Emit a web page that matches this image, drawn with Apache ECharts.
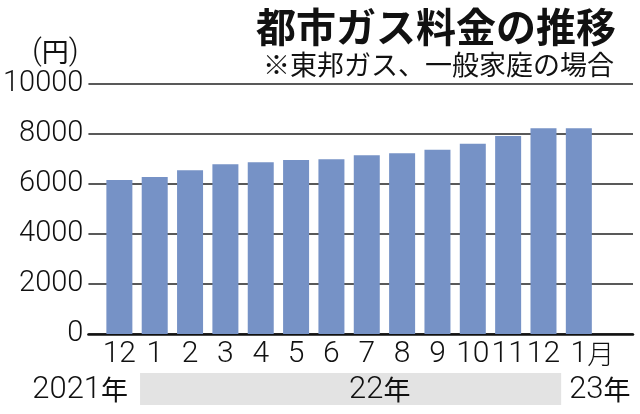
<!DOCTYPE html>
<html>
<head>
<meta charset="utf-8">
<script src="https://cdn.jsdelivr.net/npm/echarts@6/dist/echarts.min.js"></script>
<style>
  html, body { margin: 0; padding: 0; background: #fff; }
  #chart { width: 640px; height: 414px; }
</style>
</head>
<body>
<div id="chart"></div>
<script>
// monthly gas bill, Toho Gas, typical household (yen)
const months = ['12', '1', '2', '3', '4', '5', '6', '7', '8', '9', '10', '11', '12', '1'];
const fees = [6160, 6280, 6550, 6790, 6870, 6960, 6990, 7150, 7230, 7370, 7610, 7920, 8230, 8230];
const yearLabels = ['2021年', '22年', '23年'];

const numFont = "Roboto, 'Liberation Sans', 'Noto Sans CJK JP', sans-serif";
const cjkFont = "'Noto Sans CJK JP', sans-serif";

const chart = echarts.init(document.getElementById('chart'));

chart.setOption({
  animation: false,
  title: [
    {
      text: '都市ガス料金の推移',
      right: 19,
      top: 2,
      textStyle: { fontFamily: cjkFont, fontSize: 40, fontWeight: 'bold', color: '#111' }
    },
    {
      text: '※東邦ガス、一般家庭の場合',
      right: 21,
      top: 46,
      textStyle: { fontFamily: cjkFont, fontSize: 27, fontWeight: 'normal', color: '#111' }
    }
  ],
  grid: [
    { left: 85, right: 7, top: 84, bottom: 80 },
    { left: 101.7, right: 43.5, top: 84, bottom: 80 }
  ],
  xAxis: [
    {
      gridIndex: 0, type: 'value', min: 0, max: 1,
      axisLine: { show: true, onZero: false, lineStyle: { color: '#111', width: 2.5 } },
      axisTick: { show: false }, axisLabel: { show: false }, splitLine: { show: false }
    },
    {
      gridIndex: 1, type: 'category', data: months,
      axisLine: { show: false }, axisTick: { show: false },
      axisLabel: {
        interval: 0, hideOverlap: false, margin: 5,
        fontFamily: numFont, fontWeight: 300, fontSize: 30, color: '#111',
        formatter: (v, i) => i === months.length - 1 ? '{g|月}' + v + '{k|月}' : v,
        rich: {
          g: { fontFamily: cjkFont, fontSize: 27, color: 'transparent' },
          k: { fontFamily: cjkFont, fontSize: 27, color: '#111' }
        }
      }
    }
  ],
  yAxis: [
    {
      gridIndex: 0, type: 'value', min: 0, max: 10000, interval: 2000,
      name: '{p|(}{k|円}{p|)}',
      nameLocation: 'end', nameGap: 17,
      nameTextStyle: {
        verticalAlign: 'bottom', padding: [0, 66, 0, 0],
        rich: {
          p: { fontFamily: numFont, fontWeight: 300, fontSize: 30, color: '#111' },
          k: { fontFamily: cjkFont, fontSize: 27, color: '#111' }
        }
      },
      axisLine: { show: false }, axisTick: { show: false },
      axisLabel: {
        margin: 5, fontFamily: numFont, fontWeight: 300, fontSize: 29, color: '#111',
        formatter: (v) => String(v)
      },
      splitLine: { lineStyle: { color: '#222', width: 1.5 } }
    },
    {
      gridIndex: 1, type: 'value', min: 0, max: 10000, show: false
    }
  ],
  series: [
    {
      type: 'bar', xAxisIndex: 1, yAxisIndex: 1,
      data: fees, barWidth: 26,
      itemStyle: { color: '#7692c6' }
    }
  ]
});

// year row under the month labels, placed from the category axis
const c0 = chart.convertToPixel({ xAxisIndex: 1 }, 0);
const cN = chart.convertToPixel({ xAxisIndex: 1 }, months.length - 1);
const band = (cN - c0) / (months.length - 1);
const bandStart = c0 + band * 0.5;
const bandEnd = cN - band * 0.5;
const yearStyle = (t) => ({
  text: t.replace('年', '{k|年}'),
  fontFamily: numFont, fontWeight: 300, fontSize: 31, fill: '#111',
  rich: { k: { fontFamily: cjkFont, fontSize: 27, fill: '#111' } }
});

chart.setOption({
  graphic: [
    {
      type: 'rect', silent: true,
      shape: { x: bandStart + 3, y: 373, width: bandEnd - bandStart - 3, height: 32 },
      style: { fill: '#e3e3e3' }
    },
    {
      type: 'text', x: bandStart - 9, y: 390,
      style: Object.assign(yearStyle(yearLabels[0]), { align: 'right', verticalAlign: 'middle' })
    },
    {
      type: 'text', x: (bandStart + bandEnd) / 2, y: 390,
      style: Object.assign(yearStyle(yearLabels[1]), { align: 'left', verticalAlign: 'middle' })
    },
    {
      type: 'text', x: bandEnd + 8, y: 390,
      style: Object.assign(yearStyle(yearLabels[2]), { align: 'left', verticalAlign: 'middle' })
    }
  ]
});
</script>
</body>
</html>
